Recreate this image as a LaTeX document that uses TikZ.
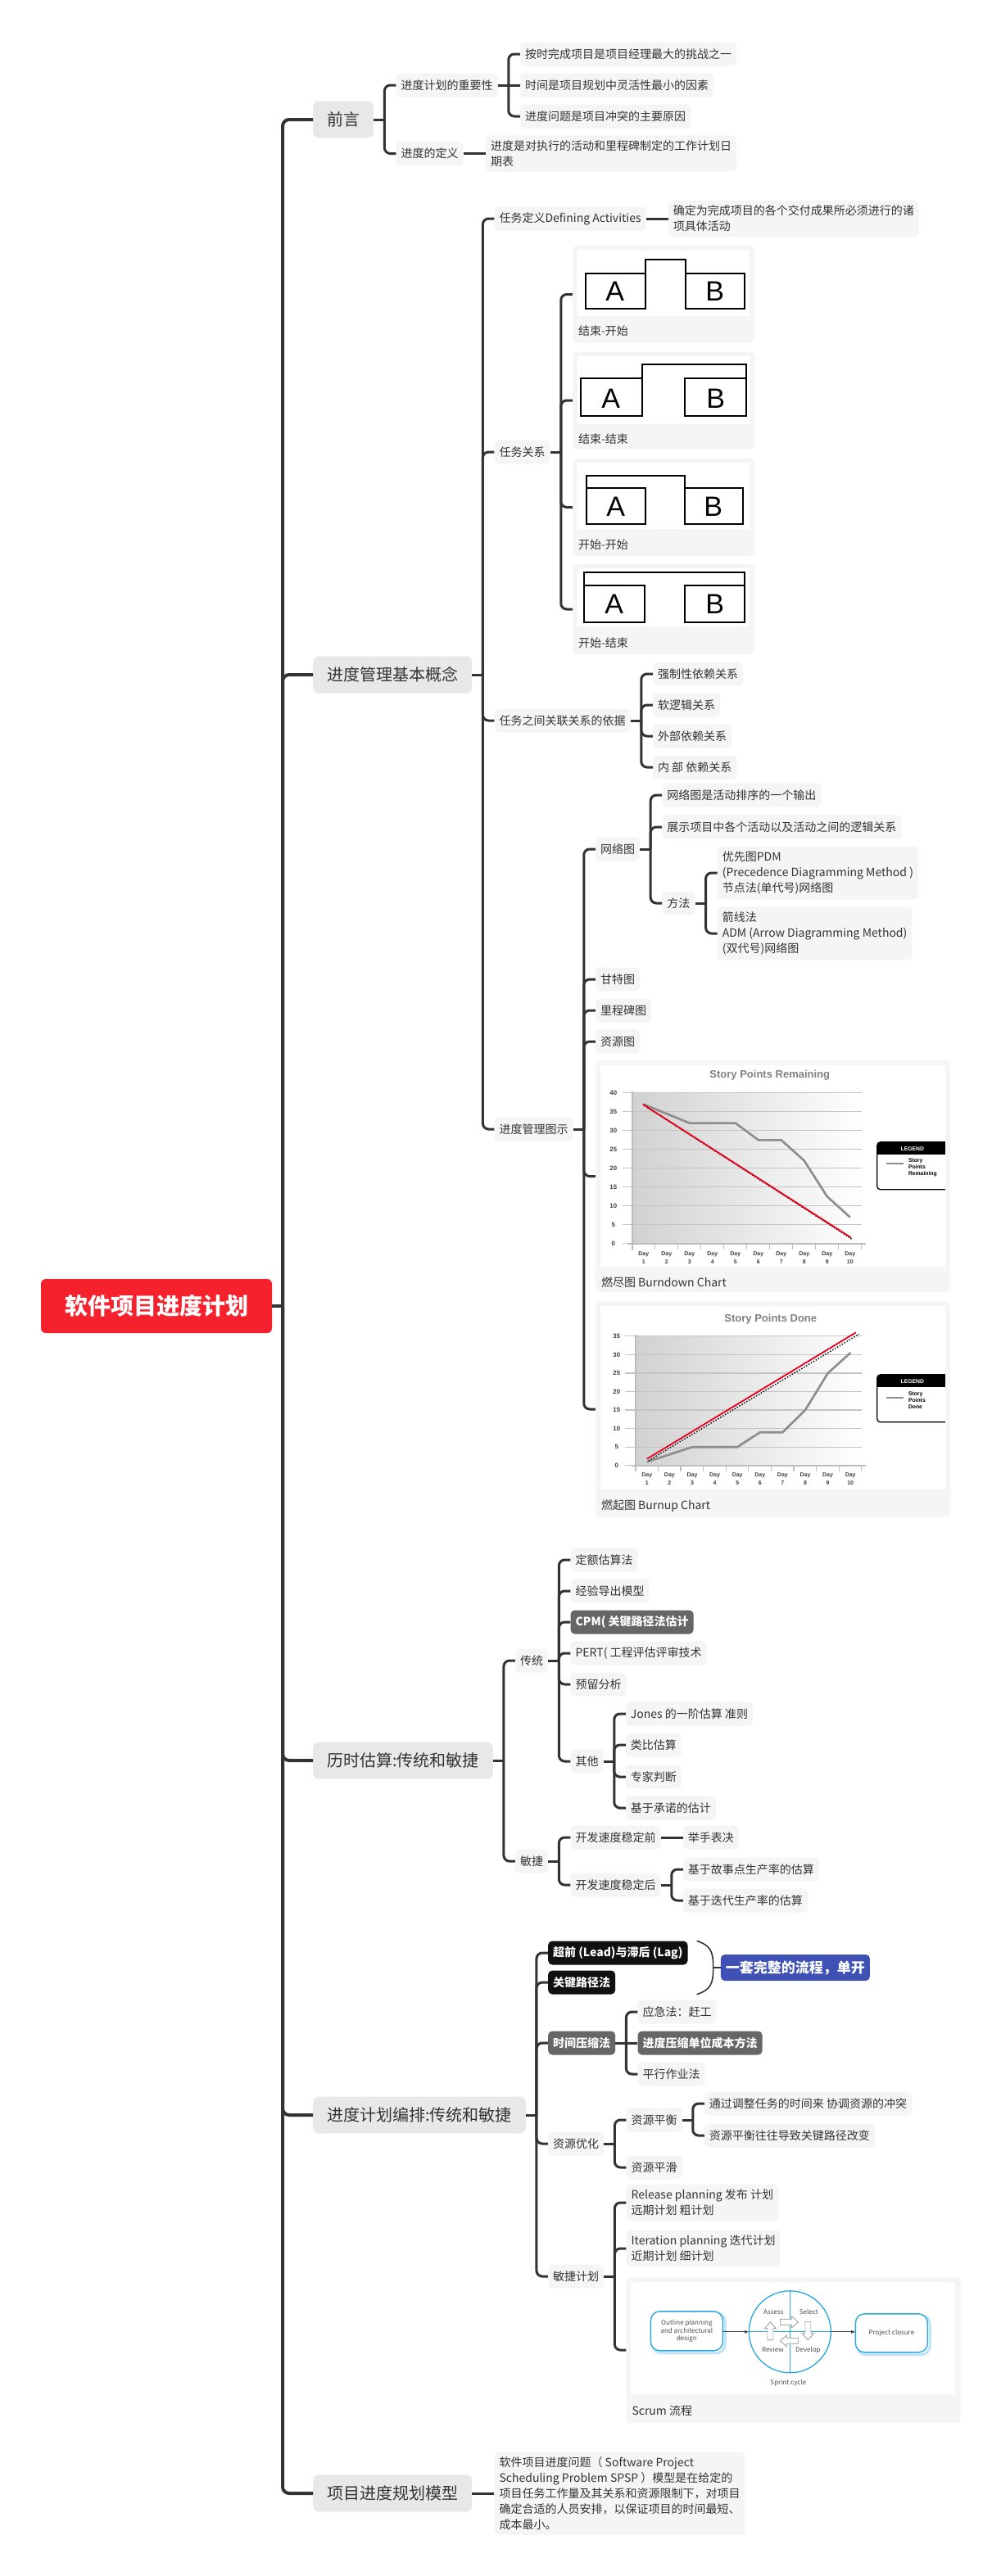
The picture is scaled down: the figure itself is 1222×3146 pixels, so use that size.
\documentclass[tikz,border=0pt]{standalone}
\usepackage{fontspec}
\setmainfont{Noto Sans CJK SC}
\newfontfamily\chartfont{Liberation Sans}
\usetikzlibrary{calc}
\definecolor{linec}{HTML}{333333}
\definecolor{txt}{HTML}{333333}
\definecolor{leafbg}{HTML}{F5F5F5}
\definecolor{mainbg}{HTML}{E8E8E8}
\definecolor{rootbg}{HTML}{F5222D}
\definecolor{darkbg}{HTML}{666666}
\definecolor{blackbg}{HTML}{111111}
\definecolor{bluebg}{HTML}{3F51B5}
\definecolor{scrumc}{HTML}{2AA7DF}
\definecolor{chartred}{HTML}{E8001C}
\definecolor{chartgray}{HTML}{8C8C8C}
\definecolor{gridc}{HTML}{C4C4C4}
\definecolor{axisc}{HTML}{BDBDBD}
\definecolor{titlec}{HTML}{808080}
\newcommand\mkbar[1]{\coordinate (#1b) at ([xshift=13pt]#1.east); \draw[conn] (#1.east) -- (#1b);}
\newcommand\kid[5][leaf]{\node[#1,xshift=14pt] (#3) at (#2 |- 0,#4) {#5};}
\newcommand\lk[2]{\draw[conn] (#1) |- (#2.west);}
\newcommand\lks[2]{\draw[conn] (#1) -- (#2.west);}
\newcommand\blkarrow[3]{\begin{scope}[shift={(#1,#2)}, rotate=#3]\draw[black!45, fill=white, line width=0.7pt] (-11,-3.5) -- (3,-3.5) -- (3,-7) -- (11,0) -- (3,7) -- (3,3.5) -- (-11,3.5) -- cycle;\end{scope}}
\tikzset{
  nbase/.style={rounded corners=5pt, text=txt, inner xsep=6pt, inner ysep=6pt, anchor=west, align=left, font=\fontsize{14}{19}\selectfont},
  leaf/.style={nbase, fill=leafbg, minimum height=29pt},
  mainn/.style={nbase, fill=mainbg, inner xsep=17pt, minimum height=45pt, rounded corners=7pt, font=\fontsize{20}{24}\selectfont},
  darkn/.style={leaf, fill=darkbg, text=white, font=\fontsize{14}{19}\selectfont\bfseries},
  blackn/.style={leaf, fill=blackbg, text=white, font=\fontsize{14}{19}\selectfont\bfseries},
  bluen/.style={nbase, fill=bluebg, text=white, minimum height=32pt, font=\fontsize{17}{20}\selectfont\bfseries},
  rootn/.style={fill=rootbg, text=white, rounded corners=6pt, minimum width=282pt, minimum height=66pt, font=\fontsize{28}{32}\selectfont\bfseries},
  imgbox/.style={fill=leafbg, rounded corners=6pt, anchor=west, inner sep=0pt},
  conn/.style={draw=linec, line width=3pt, rounded corners=7pt},
  trunk/.style={draw=linec, line width=4pt, rounded corners=8pt},
  capt/.style={anchor=west, inner sep=0pt, text=txt, font=\fontsize{14}{17}\selectfont},
  abox/.style={draw=black, line width=2pt},
  ablab/.style={font=\chartfont\fontsize{34}{34}\selectfont, inner sep=0pt},
  ctitle/.style={text=titlec, font=\chartfont\bfseries\fontsize{13}{15}\selectfont},
  ylab/.style={text=black!75, font=\chartfont\bfseries\fontsize{7.8}{9}\selectfont, inner sep=0pt},
  daylab/.style={text=black!75, font=\chartfont\bfseries\fontsize{7}{8}\selectfont, inner sep=0pt},
  leglab/.style={font=\chartfont\bfseries\fontsize{6.8}{8}\selectfont, inner sep=0pt, align=left, anchor=north west},
  scrumtxt/.style={text=black!70, font=\fontsize{8}{9.5}\selectfont, align=center, inner sep=0pt},
}
\begin{document}
\begin{tikzpicture}[x=1pt,y=-1pt]
\fill[white] (0,0) rectangle (1222,3146);
\useasboundingbox (0,0) rectangle (1222,3146);

% ---------- root and main branches ----------
\node[rootn] (R) at (191,1595) {软件项目进度计划};
\coordinate (T) at (345,1595);
\draw[trunk] (R.east) -- (T);
\node[mainn] (M1) at (382,146) {前言};
\node[mainn] (M2) at (382,824) {进度管理基本概念};
\node[mainn] (M3) at (382,2150) {历时估算:传统和敏捷};
\node[mainn] (M4) at (382,2583) {进度计划编排:传统和敏捷};
\node[mainn] (M5) at (382,3045) {项目进度规划模型};
\foreach \m in {M1,M2,M3,M4,M5} \draw[trunk] (T) |- (\m.west);

% ---------- M1 ----------
\mkbar{M1}
\kid{M1b}{A1}{104}{进度计划的重要性}
\kid{M1b}{A2}{187.5}{进度的定义}
\lk{M1b}{A1}\lk{M1b}{A2}
\mkbar{A1}
\kid{A1b}{A1a}{66}{按时完成项目是项目经理最大的挑战之一}
\kid{A1b}{A1c}{104}{时间是项目规划中灵活性最小的因素}
\kid{A1b}{A1d}{142}{进度问题是项目冲突的主要原因}
\lk{A1b}{A1a}\lks{A1b}{A1c}\lk{A1b}{A1d}
\node[leaf, xshift=27pt] (A2a) at (A2.east) {进度是对执行的活动和里程碑制定的工作计划日\\期表};
\draw[conn] (A2.east) -- (A2a.west);

% ---------- M2 ----------
\mkbar{M2}
\kid{M2b}{B1}{267}{任务定义Defining Activities}
\kid{M2b}{B2}{552}{任务关系}
\kid{M2b}{B3}{880}{任务之间关联关系的依据}
\kid{M2b}{B4}{1379}{进度管理图示}
\lk{M2b}{B1}\lk{M2b}{B2}\lk{M2b}{B3}\lk{M2b}{B4}
\node[leaf, xshift=27pt] (B1a) at (B1.east) {确定为完成项目的各个交付成果所必须进行的诸\\项具体活动};
\draw[conn] (B1.east) -- (B1a.west);

\mkbar{B2}
\node[imgbox, minimum width=222pt, minimum height=119pt, xshift=14pt] (I1) at (B2b |- 0,359.5) {};
\node[imgbox, minimum width=222pt, minimum height=119pt, xshift=14pt] (I2) at (B2b |- 0,489) {};
\node[imgbox, minimum width=222pt, minimum height=119pt, xshift=14pt] (I3) at (B2b |- 0,619.5) {};
\node[imgbox, minimum width=222pt, minimum height=110pt, xshift=14pt] (I4) at (B2b |- 0,744) {};
\lk{B2b}{I1}\lk{B2b}{I2}\lk{B2b}{I3}\lk{B2b}{I4}
\begin{scope}[shift={(I1.north west)}]
 \fill[white] (6,5) rectangle (216,86);
 \draw[abox] (16,34) rectangle (89,77);
 \draw[abox] (138,34) rectangle (210,77);
 \draw[abox] (89,34) -- (89,17) -- (138,17) -- (138,34);
 \node[ablab] at (52,56) {A};
 \node[ablab] at (174,56) {B};
 \node[capt] at (7,104) {结束-开始};
\end{scope}
\begin{scope}[shift={(I2.north west)}]
 \fill[white] (6,6) rectangle (216,89);
 \draw[abox] (10,33) rectangle (85,79);
 \draw[abox] (137,33) rectangle (212,79);
 \draw[abox] (85,33) -- (85,16) -- (212,16) -- (212,33);
 \node[ablab] at (47,57) {A};
 \node[ablab] at (175,57) {B};
 \node[capt] at (7,107) {结束-结束};
\end{scope}
\begin{scope}[shift={(I3.north west)}]
 \fill[white] (6,5) rectangle (216,86);
 \draw[abox] (17.5,36) rectangle (89,80);
 \draw[abox] (137,36) rectangle (208,80);
 \draw[abox] (17.5,36) -- (17.5,21) -- (137,21) -- (137,36);
 \node[ablab] at (53,59) {A};
 \node[ablab] at (172,59) {B};
 \node[capt] at (7,105) {开始-开始};
\end{scope}
\begin{scope}[shift={(I4.north west)}]
 \fill[white] (6,5) rectangle (216,76);
 \draw[abox] (14,26) rectangle (88,71);
 \draw[abox] (137,26) rectangle (210,71);
 \draw[abox] (14,26) -- (14,10) -- (210,10) -- (210,26);
 \node[ablab] at (51,49) {A};
 \node[ablab] at (174,49) {B};
 \node[capt] at (7,96) {开始-结束};
\end{scope}

\mkbar{B3}
\kid{B3b}{B3a}{823}{强制性依赖关系}
\kid{B3b}{B3c}{861}{软逻辑关系}
\kid{B3b}{B3d}{899}{外部依赖关系}
\kid{B3b}{B3e}{937}{内 部 依赖关系}
\lk{B3b}{B3a}\lk{B3b}{B3c}\lk{B3b}{B3d}\lk{B3b}{B3e}

\mkbar{B4}
\kid{B4b}{C1}{1037}{网络图}
\kid{B4b}{C2}{1196}{甘特图}
\kid{B4b}{C3}{1234}{里程碑图}
\kid{B4b}{C4}{1272}{资源图}
\node[imgbox, minimum width=433pt, minimum height=283pt, xshift=14pt] (C5) at (B4b |- 0,1436.5) {};
\node[imgbox, minimum width=433pt, minimum height=264pt, xshift=14pt] (C6) at (B4b |- 0,1721) {};
\lk{B4b}{C1}\lk{B4b}{C2}\lk{B4b}{C3}\lk{B4b}{C4}\lk{B4b}{C5}\lk{B4b}{C6}
\mkbar{C1}
\kid{C1b}{C1a}{971}{网络图是活动排序的一个输出}
\kid{C1b}{C1c}{1010}{展示项目中各个活动以及活动之间的逻辑关系}
\kid{C1b}{C1d}{1103}{方法}
\lk{C1b}{C1a}\lk{C1b}{C1c}\lk{C1b}{C1d}
\mkbar{C1d}
\kid{C1db}{P1}{1066}{优先图PDM\\(Precedence Diagramming Method )\\节点法(单代号)网络图}
\kid{C1db}{P2}{1140}{箭线法\\ADM (Arrow Diagramming Method)\\(双代号)网络图}
\lk{C1db}{P1}\lk{C1db}{P2}

% burndown chart
\begin{scope}[shift={(C5.north west)}]
 \fill[white] (6,6) rectangle (427,252);
 \node[ctitle] at (213,18) {Story Points Remaining};
 \shade[left color=black!18, right color=white] (45,40) rectangle (325,224);
 \foreach \v in {0,5,...,40} {
   \draw[gridc, line width=1.3pt] (33,{224-4.6*\v}) -- (325,{224-4.6*\v});
   \node[ylab] at (22,{224-4.6*\v}) {\v};
 }
 \draw[axisc, line width=2.2pt] (45,38) -- (45,232);
 \draw[axisc, line width=2.2pt] (40,224) -- (330,224);
 \foreach \k in {0,...,10} \draw[axisc, line width=1.2pt] ({45+28*\k},224) -- ({45+28*\k},231);
 \foreach \i in {1,...,10} {
   \node[daylab] at ({59+28*(\i-1)},237) {Day};
   \node[daylab] at ({59+28*(\i-1)},246.5) {\i};
 }
 \draw[chartgray, line width=2.6pt, line join=round] (59,53.8) -- (87,65.3) -- (115,76.8) -- (143,76.8) -- (171,76.8) -- (199,97.5) -- (227,97.5) -- (255,122.8) -- (283,166.5) -- (311,191.8);
 \draw[black, line width=1.4pt, dotted] (60,55.5) -- (314,219);
 \draw[chartred, line width=1.8pt] (58,53.8) -- (312,216.6);
 \begin{scope}
  \clip (6,6) rectangle (427,252);
  \draw[line width=1.3pt, fill=white, rounded corners=4pt] (344,100) rectangle (445,158);
  \begin{scope}
   \clip[rounded corners=4pt] (344,100) rectangle (445,158);
   \fill[black] (344,100) rectangle (445,115);
  \end{scope}
  \node[leglab, anchor=center, text=white] at (387,108) {LEGEND};
  \draw[chartgray, line width=2.5pt] (355,126) -- (376,126);
  \node[leglab] at (382,120) {Story\\Points\\Remaining};
 \end{scope}
 \node[capt] at (7,271) {燃尽图 Burndown Chart};
\end{scope}

% burnup chart
\begin{scope}[shift={(C6.north west)}]
 \fill[white] (6,6) rectangle (427,230);
 \node[ctitle] at (214,22) {Story Points Done};
 \shade[left color=black!18, right color=white] (49,43) rectangle (325,201);
 \foreach \v in {0,5,...,35} {
   \draw[gridc, line width=1.3pt] (36,{201-4.514*\v}) -- (325,{201-4.514*\v});
   \node[ylab] at (26,{201-4.514*\v}) {\v};
 }
 \draw[axisc, line width=2.2pt] (49,41) -- (49,208);
 \draw[axisc, line width=2.2pt] (44,201) -- (330,201);
 \foreach \k in {0,...,10} \draw[axisc, line width=1.2pt] ({49+27.6*\k},201) -- ({49+27.6*\k},208);
 \foreach \i in {1,...,10} {
   \node[daylab] at ({63+27.6*(\i-1)},213) {Day};
   \node[daylab] at ({63+27.6*(\i-1)},222.5) {\i};
 }
 \draw[chartgray, line width=2.6pt, line join=round] (63,196.5) -- (90.6,187.5) -- (118.2,178.4) -- (145.8,178.4) -- (173.4,178.4) -- (201,160.4) -- (228.6,160.4) -- (256.2,133.3) -- (283.8,88.2) -- (311.4,63.3);
 \draw[black, line width=1.4pt, dotted] (65,195) -- (322,40.5);
 \draw[chartred, line width=1.8pt] (63,192.9) -- (318,38.5);
 \begin{scope}
  \clip (6,6) rectangle (427,230);
  \draw[line width=1.3pt, fill=white, rounded corners=4pt] (344,90) rectangle (445,148);
  \begin{scope}
   \clip[rounded corners=4pt] (344,90) rectangle (445,148);
   \fill[black] (344,90) rectangle (445,105);
  \end{scope}
  \node[leglab, anchor=center, text=white] at (387,98) {LEGEND};
  \draw[chartgray, line width=2.5pt] (355,118) -- (376,118);
  \node[leglab] at (382,111) {Story\\Points\\Done};
 \end{scope}
 \node[capt] at (7,250) {燃起图 Burnup Chart};
\end{scope}

% ---------- M3 ----------
\mkbar{M3}
\kid{M3b}{D1}{2028}{传统}
\kid{M3b}{D2}{2273}{敏捷}
\lk{M3b}{D1}\lk{M3b}{D2}
\mkbar{D1}
\kid{D1b}{D1a}{1905}{定额估算法}
\kid{D1b}{D1c}{1943}{经验导出模型}
\kid[darkn]{D1b}{D1d}{1981}{CPM( 关键路径法估计}
\kid{D1b}{D1e}{2019}{PERT( 工程评估评审技术}
\kid{D1b}{D1f}{2057}{预留分析}
\kid{D1b}{D1g}{2151}{其他}
\lk{D1b}{D1a}\lk{D1b}{D1c}\lk{D1b}{D1d}\lk{D1b}{D1e}\lk{D1b}{D1f}\lk{D1b}{D1g}
\mkbar{D1g}
\kid{D1gb}{Q1}{2093}{Jones 的一阶估算 准则}
\kid{D1gb}{Q2}{2131}{类比估算}
\kid{D1gb}{Q3}{2170}{专家判断}
\kid{D1gb}{Q4}{2208}{基于承诺的估计}
\lk{D1gb}{Q1}\lk{D1gb}{Q2}\lk{D1gb}{Q3}\lk{D1gb}{Q4}
\mkbar{D2}
\kid{D2b}{D2a}{2244}{开发速度稳定前}
\kid{D2b}{D2c}{2302}{开发速度稳定后}
\lk{D2b}{D2a}\lk{D2b}{D2c}
\node[leaf, xshift=27pt] (D2a1) at (D2a.east) {举手表决};
\draw[conn] (D2a.east) -- (D2a1.west);
\mkbar{D2c}
\kid{D2cb}{V1}{2283}{基于故事点生产率的估算}
\kid{D2cb}{V2}{2321}{基于迭代生产率的估算}
\lk{D2cb}{V1}\lk{D2cb}{V2}

% ---------- M4 ----------
\mkbar{M4}
\kid[blackn]{M4b}{E1}{2385}{超前 (Lead)与滞后 (Lag)}
\kid[blackn]{M4b}{E2}{2421}{关键路径法}
\kid[darkn]{M4b}{E3}{2495}{时间压缩法}
\kid{M4b}{E4}{2618}{资源优化}
\kid{M4b}{E5}{2780}{敏捷计划}
\lk{M4b}{E1}\lk{M4b}{E2}\lk{M4b}{E3}\lk{M4b}{E4}\lk{M4b}{E5}
\path ([xshift=11pt]E1.north east) coordinate (bt);
\path (bt |- E2.south) coordinate (bb);
\path ($(bt)!0.5!(bb)+(20,0)$) coordinate (btip);
\draw[linec, line width=1.6pt] (bt) .. controls +(17,6) and +(0,-20) .. (btip) .. controls +(0,20) and +(17,-6) .. (bb);
\node[bluen] (U) at ([xshift=9pt]btip) {一套完整的流程，单开};
\draw[linec, line width=1.6pt] (btip) -- (U.west);
\mkbar{E3}
\kid{E3b}{E3a}{2457}{应急法：赶工}
\kid[darkn]{E3b}{E3c}{2495}{进度压缩单位成本方法}
\kid{E3b}{E3d}{2533}{平行作业法}
\lk{E3b}{E3a}\lks{E3b}{E3c}\lk{E3b}{E3d}
\mkbar{E4}
\kid{E4b}{E4a}{2589}{资源平衡}
\kid{E4b}{E4c}{2647}{资源平滑}
\lk{E4b}{E4a}\lk{E4b}{E4c}
\mkbar{E4a}
\kid{E4ab}{W1}{2569}{通过调整任务的时间来 协调资源的冲突}
\kid{E4ab}{W2}{2608}{资源平衡往往导致关键路径改变}
\lk{E4ab}{W1}\lk{E4ab}{W2}
\mkbar{E5}
\kid{E5b}{E5a}{2690}{Release planning 发布 计划\\远期计划 粗计划}
\kid{E5b}{E5c}{2746}{Iteration planning 迭代计划\\近期计划 细计划}
\node[imgbox, minimum width=408pt, minimum height=178pt, xshift=14pt] (S3) at (E5b |- 0,2870) {};
\lk{E5b}{E5a}\lk{E5b}{E5c}\lk{E5b}{S3}
\begin{scope}[shift={(S3.north west)}]
 \fill[white] (6,6) rectangle (402,143);
 \draw[scrumc!30, line width=3pt, rounded corners=11pt] (32,44) rectangle (121,93);
 \draw[scrumc, line width=1.4pt, fill=white, rounded corners=11pt] (30,42) rectangle (118,90);
 \node[scrumtxt] at (74,66) {Outline planning\\and architectural\\design};
 \draw[scrumc!30, line width=3pt, rounded corners=11pt] (282,47) rectangle (371,95);
 \draw[scrumc, line width=1.4pt, fill=white, rounded corners=11pt] (280,45) rectangle (368,92);
 \node[scrumtxt] at (324,68.5) {Project closure};
 \draw[scrumc, line width=1.3pt] (200,67) circle[radius=50pt];
 \draw[scrumc, line width=1pt] (200,17) -- (200,117);
 \draw[scrumc, line width=1pt] (150,67) -- (250,67);
 \draw[-latex, black!75, line width=0.8pt] (118,67) -- (150,67);
 \draw[-latex, black!75, line width=0.8pt] (250,67) -- (280,67);
 \blkarrow{199}{55}{0}
 \blkarrow{222}{66}{-90}
 \blkarrow{199}{78}{180}
 \blkarrow{176}{66}{90}
 \node[scrumtxt] at (180,43) {Assess};
 \node[scrumtxt] at (223,43) {Select};
 \node[scrumtxt] at (179,89) {Review};
 \node[scrumtxt] at (222,89) {Develop};
 \node[scrumtxt] at (198,129) {Sprint cycle};
 \node[capt] at (7,163) {Scrum 流程};
\end{scope}

% ---------- M5 ----------
\node[leaf, xshift=27pt] (M5a) at (M5.east) {软件项目进度问题（ Software Project\\Scheduling Problem SPSP ）模型是在给定的\\项目任务工作量及其关系和资源限制下，对项目\\确定合适的人员安排，以保证项目的时间最短、\\成本最小。};
\draw[conn] (M5.east) -- (M5a.west);
\end{tikzpicture}
\end{document}
